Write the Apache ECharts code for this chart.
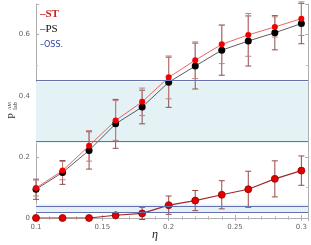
<!DOCTYPE html>
<html><head><meta charset="utf-8">
<script src="https://cdn.jsdelivr.net/npm/echarts@6/dist/echarts.min.js"></script>
<style>html,body{margin:0;padding:0;background:#fff}#c{width:311px;height:245px}</style>
</head><body><div id="c"></div>
<script>
const eta = [0.1,0.12,0.14,0.16,0.18,0.2,0.22,0.24,0.26,0.28,0.3];
const ps = [0.094,0.149,0.221,0.308,0.363,0.444,0.497,0.549,0.579,0.606,0.636];
const st = [0.098,0.155,0.236,0.319,0.380,0.460,0.516,0.568,0.599,0.625,0.652];
const psErr = [0.033,0.039,0.061,0.08,0.055,0.082,0.075,0.082,0.082,0.056,0.066];
const stErr = [0.026,0.03,0.05,0.065,0.045,0.07,0.06,0.063,0.07,0.033,0.055];
const oss = [0,0,0,0.009,0.015,0.042,0.057,0.076,0.094,0.128,0.155];
const ossErr = [0,0,0,0,0.02,0.03,0.033,0.046,0.059,0.059,0.048];
const bandUpper = [0.246,0.446];
const bandLower = [0.017,0.044];
const xTicks = [0.1,0.15,0.2,0.25,0.3];
const yTicks = [0,0.2,0.4,0.6];

const chart = echarts.init(document.getElementById('c'));
function errSeries(vals, errs, color){
  return {type:'custom', z:1, silent:true,
    data: eta.map((x,i)=>[x, vals[i], errs[i]]),
    renderItem:(params, api)=>{
      const x=api.value(0), y=api.value(1), e=api.value(2);
      if(!e) return null;
      const a=api.coord([x,y+e]), b=api.coord([x,y-e]);
      const w=3, st={stroke:color, lineWidth:1};
      return {type:'group', children:[
        {type:'line', shape:{x1:a[0],y1:a[1],x2:b[0],y2:b[1]}, style:st},
        {type:'line', shape:{x1:a[0]-w,y1:a[1],x2:a[0]+w,y2:a[1]}, style:st},
        {type:'line', shape:{x1:b[0]-w,y1:b[1],x2:b[0]+w,y2:b[1]}, style:st}
      ]};
    }};
}
const fmtX = v => xTicks.some(t=>Math.abs(t-v)<1e-6) ? String(+v.toFixed(2)) : '';
const fmtY = v => yTicks.some(t=>Math.abs(t-v)<1e-6) ? String(+v.toFixed(1)) : '';
const axisCommon = {axisLine:{lineStyle:{color:'#b0b0b0'}}, axisTick:{inside:true,length:3,lineStyle:{color:'#b0b0b0'}}, splitLine:{show:false}};
const mtX = {show:true,splitNumber:5,length:2,lineStyle:{color:'#c0c0c0'}};
const mtY = {show:true,splitNumber:2,length:2,lineStyle:{color:'#c0c0c0'}};
const lbl = {fontSize:7,color:'#666',fontFamily:'DejaVu Sans'};
const bandStyle = {color:'#e4f2f6'};
const bandLine = {color:'#6670b0', width:1, type:'solid'};
const option = {
  animation:false,
  grid:{left:36,right:2,top:4,bottom:27},
  xAxis:[
    Object.assign({type:'value',min:0.1,max:0.305,interval:0.05,
      axisLabel:Object.assign({formatter:fmtX,margin:6},lbl), minorTick:mtX}, axisCommon),
    Object.assign({type:'value',min:0.1,max:0.305,interval:0.05,position:'top',axisLabel:{show:false}, minorTick:mtX}, axisCommon)
  ],
  yAxis:[
    Object.assign({type:'value',min:0,max:0.7,interval:0.2,
      axisLabel:Object.assign({formatter:fmtY,margin:6},lbl), minorTick:mtY}, axisCommon),
    Object.assign({type:'value',min:0,max:0.7,interval:0.2,position:'right',axisLabel:{show:false}, minorTick:mtY}, axisCommon)
  ],
  series:[
    {type:'line', data:[], silent:true, z:0,
      markArea:{silent:true, itemStyle:bandStyle, data:[[{yAxis:bandUpper[0]},{yAxis:bandUpper[1]}],[{yAxis:bandLower[0]},{yAxis:bandLower[1]}]]},
      markLine:{silent:true, symbol:'none', label:{show:false}, lineStyle:bandLine,
        data:[{yAxis:bandUpper[0]},{yAxis:bandUpper[1]},{yAxis:bandLower[0]},{yAxis:bandLower[1]}]}},
    errSeries(ps, psErr, '#8c5050'),
    errSeries(st, stErr, '#c08080'),
    errSeries(oss, ossErr, '#9a4848'),
    {type:'line', z:3, data:eta.map((x,i)=>[x,ps[i]]), symbol:'circle', symbolSize:7,
      lineStyle:{color:'#333',width:0.8}, itemStyle:{color:'#000'}},
    {type:'line', z:4, data:eta.map((x,i)=>[x,st[i]]), symbol:'circle', symbolSize:6,
      lineStyle:{color:'#e04040',width:0.8}, itemStyle:{color:'#f00000'}},
    {type:'line', z:4, data:eta.map((x,i)=>[x,oss[i]]), symbol:'circle', symbolSize:7,
      lineStyle:{color:'#a02828',width:1.2}, itemStyle:{color:'#e00000',borderColor:'#900',borderWidth:0.8}}
  ],
  graphic:[
    {type:'text', left:40, top:9, style:{text:'\u2013ST', fill:'#d02020', font:'bold 11px "Liberation Serif"'}},
    {type:'text', left:40, top:24, style:{text:'\u2013PS', fill:'#111', font:'11px "Liberation Serif"'}},
    {type:'text', left:40, top:41, style:{text:'\u2013OSS.', fill:'#3040a0', font:'8px "DejaVu Sans"'}},
    {type:'text', x:12.5, y:116, rotation:Math.PI/2, style:{text:'P', fill:'#333', font:'10px "Liberation Serif"', align:'center', verticalAlign:'middle'}},
    {type:'text', x:10, y:106, rotation:Math.PI/2, style:{text:'AM', fill:'#333', font:'5px "Liberation Serif"', align:'center', verticalAlign:'middle'}},
    {type:'text', x:15, y:106, rotation:Math.PI/2, style:{text:'lab', fill:'#333', font:'6px "Liberation Serif"', align:'center', verticalAlign:'middle'}},
    {type:'text', x:155, y:235, style:{text:'\u03b7', fill:'#222', font:'italic 12px "Liberation Serif"', align:'center', verticalAlign:'middle'}}
  ]
};
chart.setOption(option);
</script></body></html>
